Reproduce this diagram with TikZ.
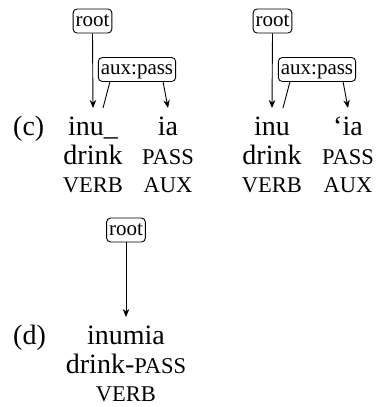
\documentclass[tikz,border=0pt]{standalone}
\usepackage{fontspec}
\setmainfont{Liberation Serif}
\usetikzlibrary{arrows.meta,calc}

% word line and gloss sizes
\newcommand{\wordsize}{\fontsize{28}{34}\selectfont}
\newcommand{\labsize}{\fontsize{21}{25}\selectfont}
\newcommand{\smc}[1]{{\fontsize{22.5}{27}\selectfont #1}}

\tikzset{
  deplabel/.style={draw, line width=0.9pt, rounded corners=4pt, font=\labsize,
    inner xsep=2.5pt, inner ysep=2.5pt, text height=14.5pt, text depth=4.5pt},
  word/.style={anchor=base, inner sep=0pt, font=\wordsize},
  exnum/.style={anchor=base west, inner sep=0pt, font=\wordsize},
  deparc/.style={line width=0.9pt, -{Stealth[length=8pt,width=6.5pt,inset=2.5pt]}},
  depline/.style={line width=0.9pt}
}

\begin{document}
\begin{tikzpicture}[x=1pt,y=-1pt]
\useasboundingbox (0,0) rectangle (379,407);

% ---- example (c), first analysis ----
\node[exnum] (exc) at (13,135.5) {(c)};
\node[word] (c1a) at (93,135.5) {inu\_};
\node[word] (c1b) at (93,164) {drink};
\node[word] (c1c) at (93,192.5) {\smc{VERB}};
\node[word] (c2a) at (168,135.5) {ia};
\node[word] (c2b) at (168,164) {\smc{PASS}};
\node[word] (c2c) at (168,192.5) {\smc{AUX}};

\node[deplabel] (rootc) at (92.5,21) {root};
\node[deplabel] (auxc) at (137,69.5) {aux:pass};
\coordinate (tipc1) at (93,108);
\coordinate (footc1) at (103,108);
\coordinate (tipc2) at (168,108);
\draw[deparc] (rootc.south) -- (tipc1);
\draw[depline] ([xshift=12pt]auxc.south west) -- (footc1);
\draw[deparc] ([xshift=-13pt]auxc.south east) -- (tipc2);

% ---- example (c), second analysis ----
\node[word] (e1a) at (272,135.5) {inu};
\node[word] (e1b) at (272,164) {drink};
\node[word] (e1c) at (272,192.5) {\smc{VERB}};
\node[word] (e2a) at (348,135.5) {‘ia};
\node[word] (e2b) at (348,164) {\smc{PASS}};
\node[word] (e2c) at (348,192.5) {\smc{AUX}};

\node[deplabel] (roote) at (272.5,21) {root};
\node[deplabel] (auxe) at (317,69.5) {aux:pass};
\coordinate (tipe1) at (272,108);
\coordinate (foote1) at (283,108);
\coordinate (tipe2) at (348,108);
\draw[deparc] (roote.south) -- (tipe1);
\draw[depline] ([xshift=12pt]auxe.south west) -- (foote1);
\draw[deparc] ([xshift=-13pt]auxe.south east) -- (tipe2);

% ---- example (d) ----
\node[exnum] (exd) at (13,344.5) {(d)};
\node[word] (d1a) at (126,344.5) {inumia};
\node[word] (d1b) at (126,373) {drink-\smc{PASS}};
\node[word] (d1c) at (126,401.5) {\smc{VERB}};

\node[deplabel] (rootd) at (126,230) {root};
\coordinate (tipd) at (126,317);
\draw[deparc] (rootd.south) -- (tipd);
\end{tikzpicture}
\end{document}
